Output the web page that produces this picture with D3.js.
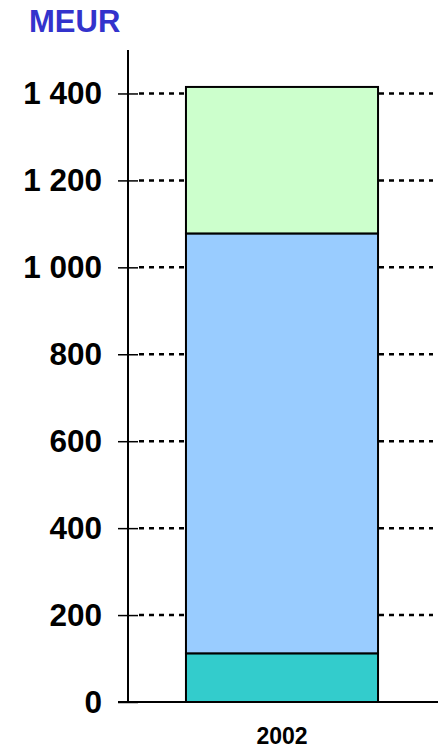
<!DOCTYPE html>
<html>
<head>
<meta charset="utf-8">
<script src="https://cdn.jsdelivr.net/npm/d3@7"></script>
<style>
  html, body { margin: 0; padding: 0; background: #fff; }
  svg { display: block; font-family: "Liberation Sans", Arial, sans-serif; }
</style>
</head>
<body>
<svg id="chart" width="443" height="750"></svg>
<script>
// Stacked revenue components for 2002 (MEUR)
const categories = ["2002"];
const seriesNames = ["base", "middle", "top"];
const baseValues = [112];
const middleValues = [966];
const topValues = [337];
const tickValues = [0, 200, 400, 600, 800, 1000, 1200, 1400];
const tickLabels = ["0", "200", "400", "600", "800", "1 000", "1 200", "1 400"];
const unitLabel = "MEUR";

const colors = { base: "#33cccc", middle: "#99ccff", top: "#ccffcc" };

const rows = categories.map((c, i) => ({
  category: c,
  base: baseValues[i],
  middle: middleValues[i],
  top: topValues[i]
}));
const stacked = d3.stack().keys(seriesNames)(rows);

const svg = d3.select("#chart");

const y = d3.scaleLinear().domain([0, 1500]).range([702, 50]);
const x = d3.scaleBand().domain(categories).range([127, 437])
  .paddingInner(0).paddingOuter(0.307);

// dotted gridlines
svg.append("g")
  .selectAll("line")
  .data(tickValues.filter(v => v > 0))
  .join("line")
  .attr("x1", 139).attr("x2", 433)
  .attr("y1", d => y(d)).attr("y2", d => y(d))
  .attr("stroke", "#000")
  .attr("stroke-width", 2.5)
  .attr("stroke-dasharray", "5,5");

// stacked bar segments
svg.append("g")
  .selectAll("g")
  .data(stacked)
  .join("g")
  .attr("fill", d => colors[d.key])
  .selectAll("rect")
  .data(d => d)
  .join("rect")
  .attr("x", d => x(d.data.category))
  .attr("width", x.bandwidth())
  .attr("y", d => y(d[1]))
  .attr("height", d => y(d[0]) - y(d[1]))
  .attr("stroke", "#000")
  .attr("stroke-width", 2);

// y axis
const yAxis = d3.axisLeft(y)
  .tickValues(tickValues)
  .tickFormat((d, i) => tickLabels[i])
  .tickSize(0)
  .tickPadding(26);
const gy = svg.append("g").attr("transform", "translate(128,0)").call(yAxis);
gy.select(".domain").remove();
gy.selectAll(".tick line").remove();
gy.selectAll(".tick").append("line")
  .attr("x1", -10).attr("x2", 10)
  .attr("stroke", "#000").attr("stroke-width", 1.5);
gy.selectAll(".tick text")
  .attr("font-size", 31.5)
  .attr("font-weight", "bold")
  .attr("fill", "#000")
  .attr("font-family", "'Liberation Sans', Arial, sans-serif");
gy.append("line")
  .attr("x1", 0).attr("x2", 0)
  .attr("y1", y(1500)).attr("y2", y(0))
  .attr("stroke", "#000").attr("stroke-width", 2);

// x axis baseline and category label
const xAxis = d3.axisBottom(x).tickSize(0).tickPadding(26);
const gx = svg.append("g").attr("transform", `translate(0,${y(0)})`).call(xAxis);
gx.select(".domain").remove();
gx.append("line")
  .attr("x1", 118).attr("x2", 438)
  .attr("stroke", "#000").attr("stroke-width", 2);
gx.selectAll(".tick text")
  .attr("font-size", 23)
  .attr("font-weight", "bold")
  .attr("fill", "#000")
  .attr("font-family", "'Liberation Sans', Arial, sans-serif");

// unit label
svg.append("text")
  .attr("x", 29).attr("y", 32)
  .attr("font-size", 31)
  .attr("font-weight", "bold")
  .attr("fill", "#3333cc")
  .text(unitLabel);
</script>
</body>
</html>
